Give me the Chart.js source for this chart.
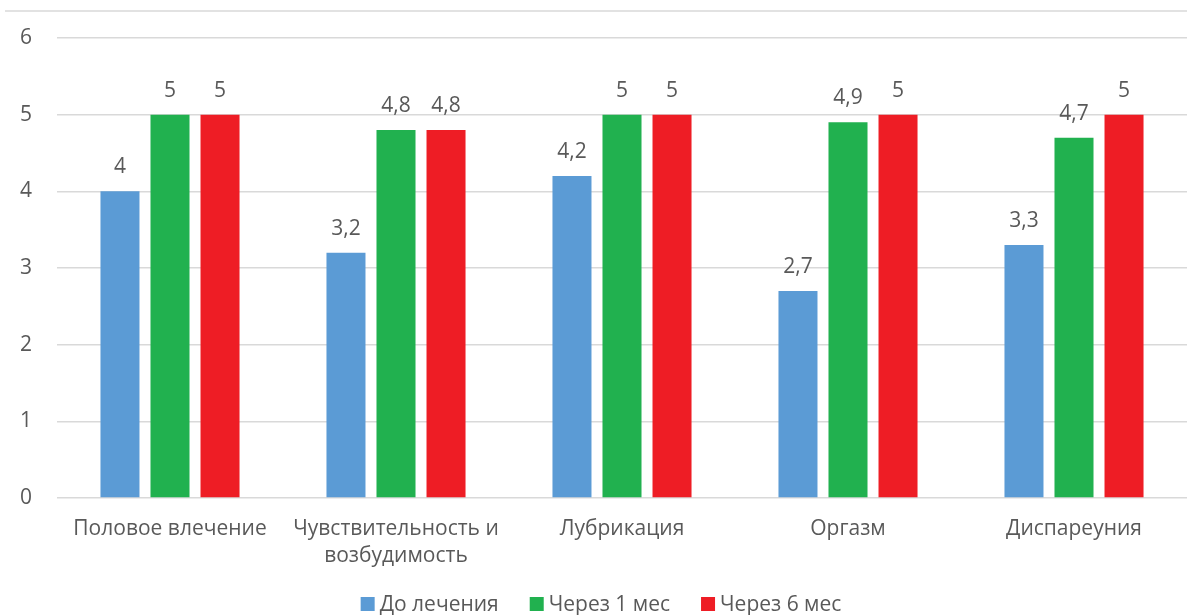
<!DOCTYPE html>
<html>
<head>
<meta charset="utf-8">
<script src="https://cdn.jsdelivr.net/npm/chart.js@4/dist/chart.umd.min.js"></script>
<style>
  html, body { margin: 0; padding: 0; background: #ffffff; }
  #wrap { width: 1187px; height: 615px; position: relative; }
</style>
</head>
<body>
<div id="wrap"><canvas id="c" width="1187" height="615"></canvas></div>
<script>
const categories = [
  'Половое влечение',
  ['Чувствительность и', 'возбудимость'],
  'Лубрикация',
  'Оргазм',
  'Диспареуния'
];
const seriesNames = ['До лечения', 'Через 1 мес', 'Через 6 мес'];
const seriesColors = ['#5B9BD5', '#21B14F', '#EE1D25'];
const beforeTreatment = [4, 3.2, 4.2, 2.7, 3.3];
const after1Month = [5, 4.8, 5, 4.9, 4.7];
const after6Months = [5, 4.8, 5, 5, 5];
const yTicks = [0, 1, 2, 3, 4, 5, 6];

const FONT = "'Open Sans', 'Noto Sans', sans-serif";
const FS = 21;
const TEXT = '#595959';
const GRID = '#d9d9d9';

// value labels above each bar, decimal comma
const valueLabels = {
  id: 'valueLabels',
  afterDatasetsDraw(chart) {
    const ctx = chart.ctx;
    ctx.save();
    ctx.font = FS + 'px ' + FONT;
    ctx.fillStyle = TEXT;
    ctx.textAlign = 'center';
    ctx.textBaseline = 'middle';
    chart.data.datasets.forEach((ds, i) => {
      chart.getDatasetMeta(i).data.forEach((bar, j) => {
        const txt = String(ds.data[j]).replace('.', ',');
        ctx.fillText(txt, bar.x, bar.y - 24);
      });
    });
    ctx.restore();
  }
};

// thin frame line across the top
const topRule = {
  id: 'topRule',
  beforeDraw(chart) {
    const ctx = chart.ctx;
    ctx.save();
    ctx.strokeStyle = GRID;
    ctx.lineWidth = 1.5;
    ctx.beginPath();
    ctx.moveTo(5, 11);
    ctx.lineTo(chart.width, 11);
    ctx.stroke();
    ctx.restore();
  }
};

// legend row under the plot: square swatch, short gap, series name
const bottomLegend = {
  id: 'bottomLegend',
  afterDraw(chart) {
    const ctx = chart.ctx;
    const box = 14, textGap = 5, itemGap = 31, cy = 604, centreX = 601;
    ctx.save();
    ctx.font = FS + 'px ' + FONT;
    ctx.textBaseline = 'middle';
    ctx.textAlign = 'left';
    const items = chart.data.datasets.map(ds => ({
      label: ds.label, color: ds.backgroundColor,
      w: box + textGap + ctx.measureText(ds.label).width
    }));
    const total = items.reduce((s, it) => s + it.w, 0) + itemGap * (items.length - 1);
    let x = centreX - total / 2;
    items.forEach(it => {
      ctx.fillStyle = it.color;
      ctx.fillRect(x, cy - box / 2, box, box);
      ctx.fillStyle = TEXT;
      ctx.fillText(it.label, x + box + textGap, cy + 1);
      x += it.w + itemGap;
    });
    ctx.restore();
  }
};

new Chart(document.getElementById('c'), {
  type: 'bar',
  data: {
    labels: categories,
    datasets: [
      { label: seriesNames[0], data: beforeTreatment, backgroundColor: seriesColors[0] },
      { label: seriesNames[1], data: after1Month, backgroundColor: seriesColors[1] },
      { label: seriesNames[2], data: after6Months, backgroundColor: seriesColors[2] }
    ]
  },
  options: {
    responsive: false,
    animation: false,
    events: [],
    layout: { padding: { top: 38, right: 0, left: 0, bottom: 0 } },
    datasets: {
      bar: { categoryPercentage: 0.664, barPercentage: 0.78 }
    },
    scales: {
      x: {
        grid: { display: false, drawTicks: false },
        border: { display: false },
        ticks: {
          color: TEXT,
          font: { family: FONT, size: FS, lineHeight: 1.3 },
          padding: 17,
          maxRotation: 0,
          autoSkip: false
        },
        afterFit(scale) { scale.height = 117; }
      },
      y: {
        min: 0,
        max: 6,
        afterBuildTicks(scale) { scale.ticks = yTicks.map(v => ({ value: v })); },
        grid: { color: GRID, lineWidth: 1.5, drawTicks: false },
        border: { display: false },
        ticks: {
          color: TEXT,
          font: { family: FONT, size: FS },
          padding: 25
        },
        afterFit(scale) { scale.width = 57; }
      }
    },
    plugins: {
      legend: { display: false },
      tooltip: { enabled: false }
    }
  },
  plugins: [valueLabels, topRule, bottomLegend]
});
</script>
</body>
</html>
